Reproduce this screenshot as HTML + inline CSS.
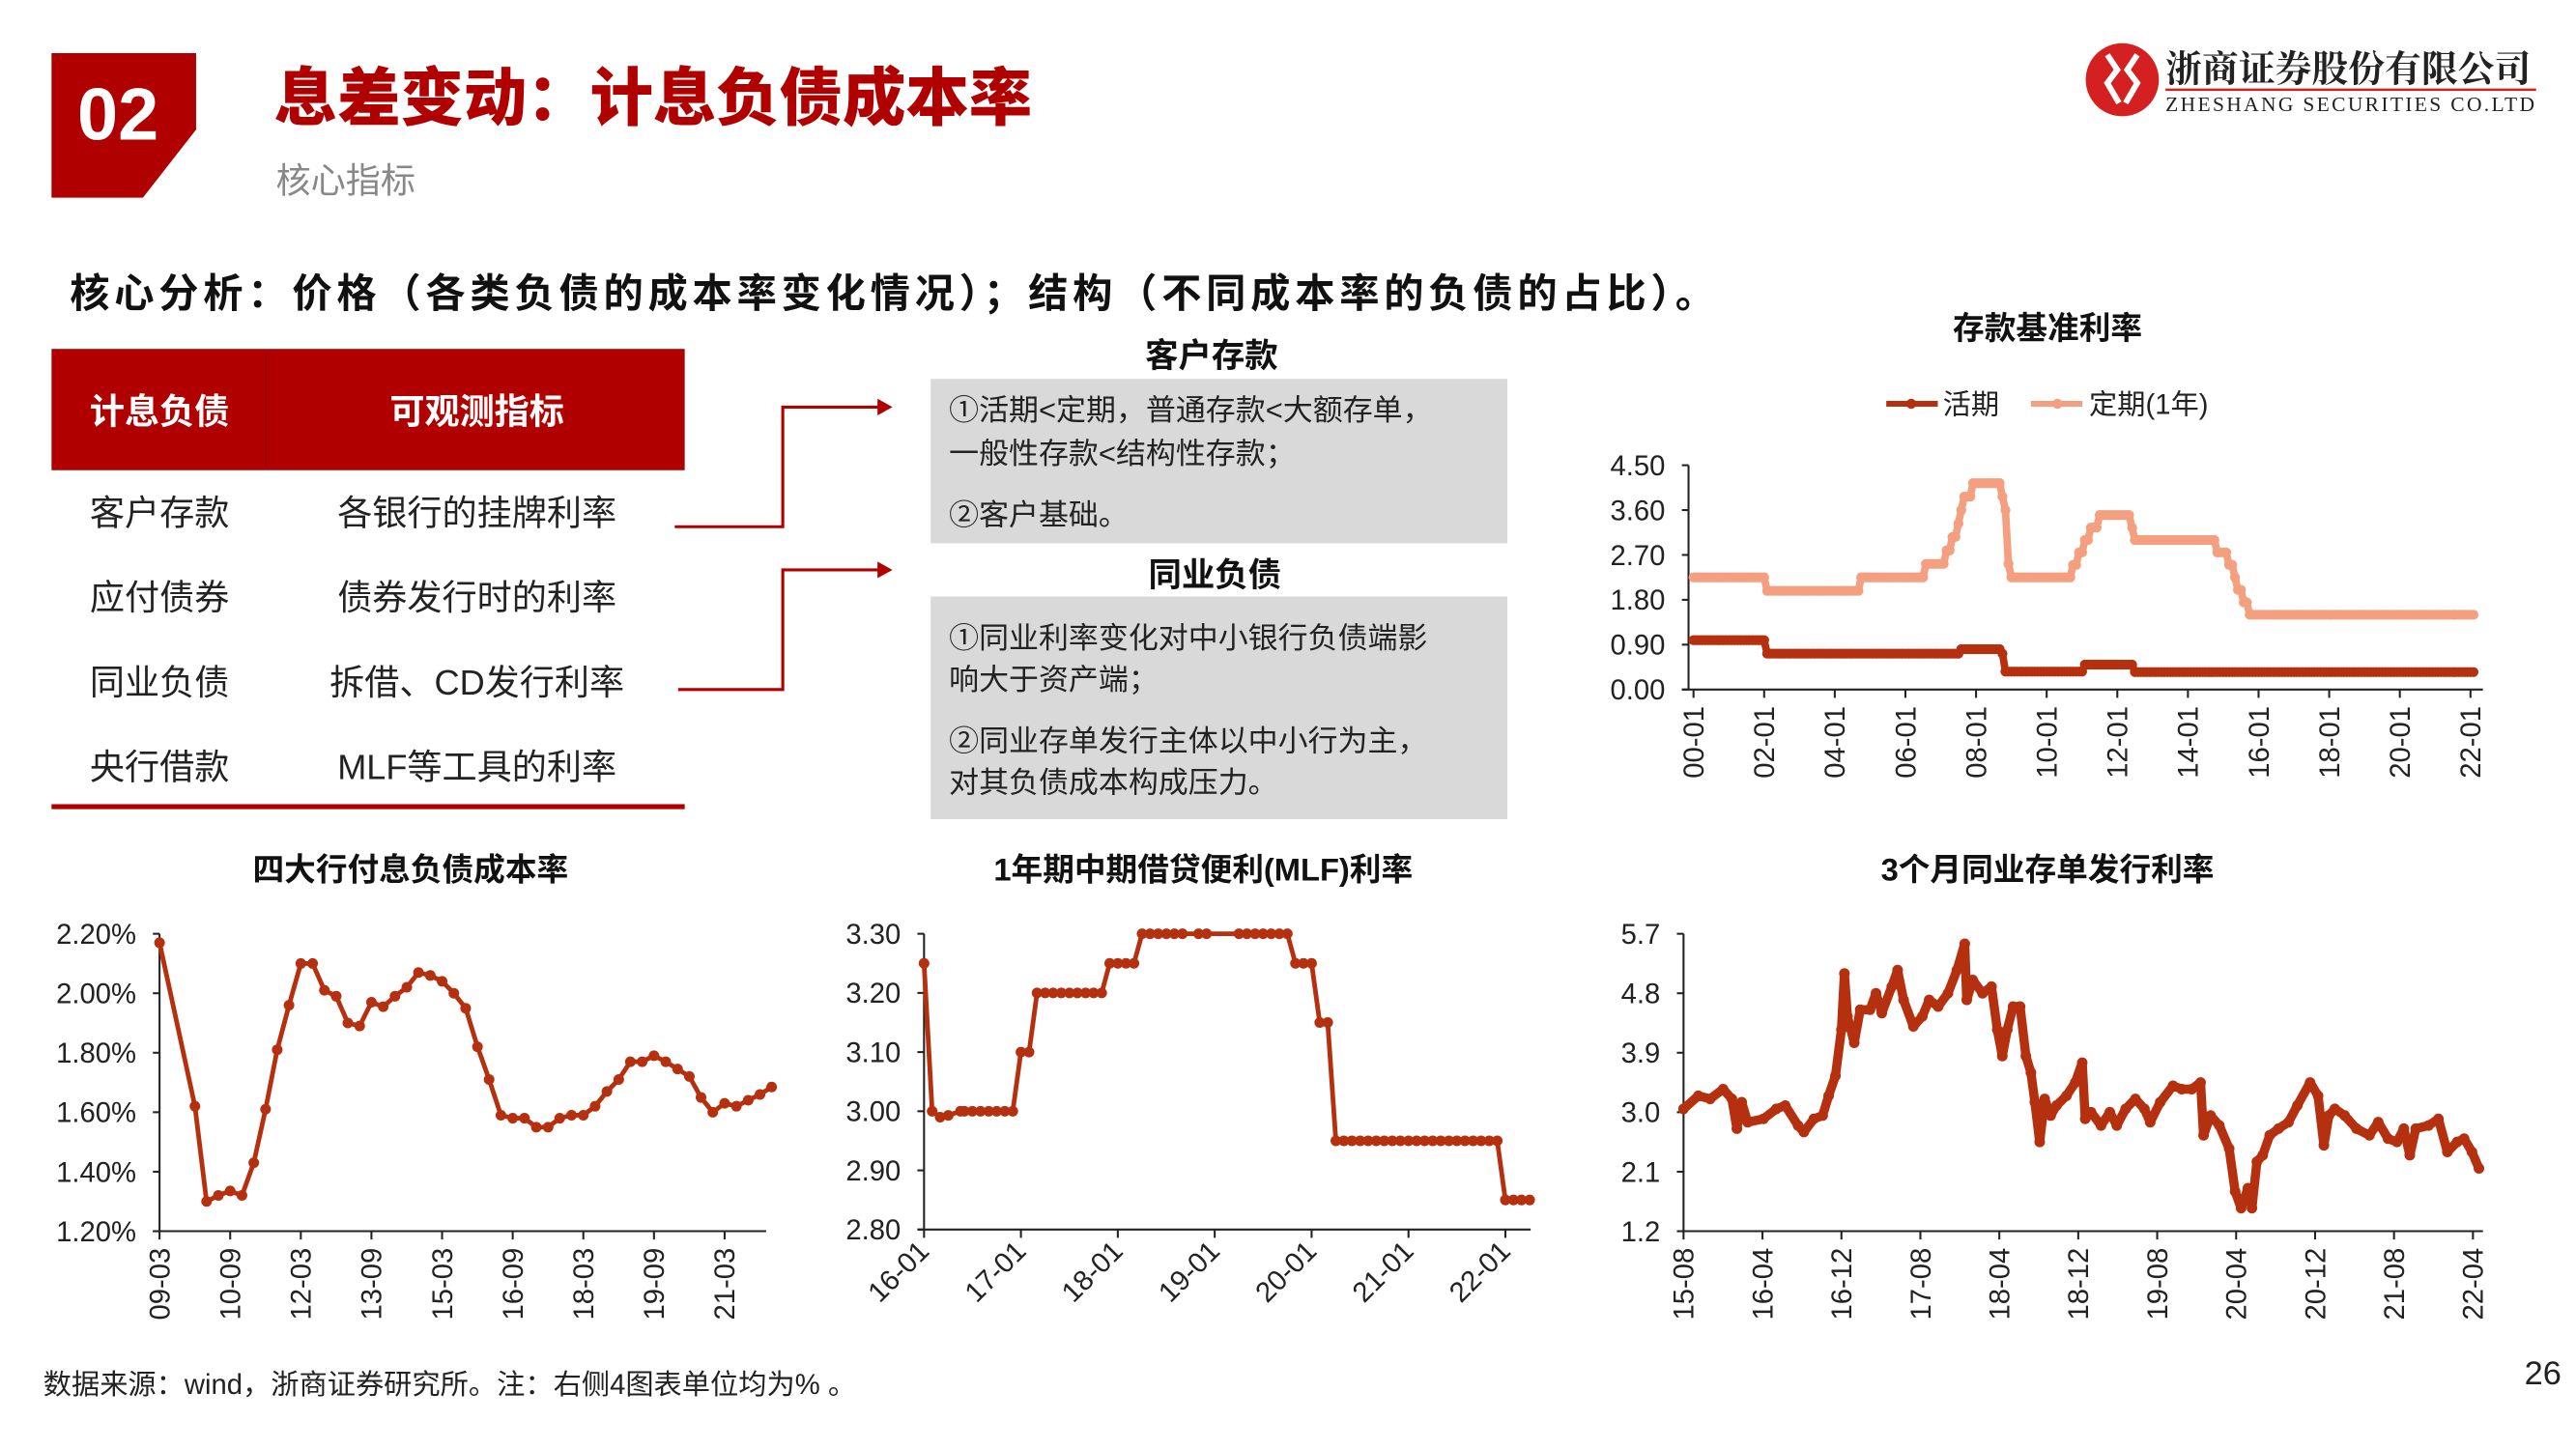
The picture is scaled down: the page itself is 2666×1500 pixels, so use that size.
<!DOCTYPE html>
<html><head><meta charset="utf-8">
<style>
html,body{margin:0;padding:0;background:#fff;}
body{width:2666px;height:1500px;overflow:hidden;}
#wrap{position:absolute;left:0;top:0;width:1550px;height:872.1px;transform:scale(1.72);transform-origin:0 0;font-family:"Liberation Sans","Noto Sans CJK SC",sans-serif;}
</style></head>
<body>
<div id="wrap">
<svg width="1550" height="872" style="position:absolute;left:0;top:0">
  <polygon points="31,32 118,32 118,78 86,119 31,119" fill="#b00000"/>
  <text x="71" y="84" font-family="Liberation Sans" font-weight="bold" font-size="44" fill="#fff" text-anchor="middle">02</text>
  <text x="165" y="72" font-family="Liberation Sans,Noto Sans CJK SC,sans-serif" font-weight="900" font-size="38" fill="#b00000">息差变动：计息负债成本率</text>
  <text x="166" y="116" font-family="Liberation Sans,Noto Sans CJK SC,sans-serif" font-size="21" fill="#888">核心指标</text>
  <g>
    <circle cx="1277" cy="48" r="22" fill="#d42020"/>
    <path d="M1268,33 L1274,42 L1268,50 L1275,62 M1286,33 L1280,42 L1286,50 L1279,62" stroke="#fff" stroke-width="3.5" fill="none"/>
    <text x="1303" y="49" font-family="Noto Serif CJK SC,serif" font-weight="bold" font-size="22" fill="#222">浙商证券股份有限公司</text>
    <line x1="1303" y1="54" x2="1526" y2="54" stroke="#d42020" stroke-width="1.5"/>
    <text x="1303" y="67" font-family="Liberation Serif,serif" font-size="12.5" fill="#222" textLength="222">ZHESHANG SECURITIES CO.LTD</text>
  </g>
  <text x="42" y="185" font-family="Liberation Sans,Noto Sans CJK SC,sans-serif" font-weight="bold" font-size="24" fill="#111" textLength="990">核心分析：价格（各类负债的成本率变化情况）；结构（不同成本率的负债的占比）。</text>
  <g>
    <rect x="31" y="210" width="381" height="73" fill="#b00000"/>
    <line x1="160" y1="212" x2="160" y2="281" stroke="#9a0000" stroke-width="1"/>
    <g font-family="Liberation Sans,Noto Sans CJK SC,sans-serif" font-size="21" text-anchor="middle">
      <text x="96" y="255" fill="#fff" font-weight="bold">计息负债</text>
      <text x="287" y="255" fill="#fff" font-weight="bold">可观测指标</text>
      <text x="96" y="316" fill="#222">客户存款</text><text x="287" y="316" fill="#222">各银行的挂牌利率</text>
      <text x="96" y="367" fill="#222">应付债券</text><text x="287" y="367" fill="#222">债券发行时的利率</text>
      <text x="96" y="418" fill="#222">同业负债</text><text x="287" y="418" fill="#222">拆借、CD发行利率</text>
      <text x="96" y="469" fill="#222">央行借款</text><text x="287" y="469" fill="#222">MLF等工具的利率</text>
    </g>
    <rect x="31" y="484" width="381" height="3" fill="#b00000"/>
  </g>
  <g stroke="#b00000" stroke-width="1.8" fill="none">
    <polyline points="406,317 471,317 471,245 530,245"/>
    <polyline points="408,415 471,415 471,343 530,343"/>
  </g>
  <polygon points="528,240 537,245 528,250" fill="#b00000"/>
  <polygon points="528,338 537,343 528,348" fill="#b00000"/>
  <g font-family="Liberation Sans,Noto Sans CJK SC,sans-serif">
    <text x="729" y="221" font-size="20" font-weight="bold" text-anchor="middle" fill="#111">客户存款</text>
    <rect x="560" y="228" width="347" height="99" fill="#d9d9d9"/>
    <text font-size="18" fill="#222"><tspan x="571" y="253">①活期&lt;定期，普通存款&lt;大额存单，</tspan><tspan x="571" y="279">一般性存款&lt;结构性存款；</tspan><tspan x="571" y="316">②客户基础。</tspan></text>
    <text x="731" y="353" font-size="20" font-weight="bold" text-anchor="middle" fill="#111">同业负债</text>
    <rect x="560" y="359" width="347" height="134" fill="#d9d9d9"/>
    <text font-size="18" fill="#222"><tspan x="571" y="390">①同业利率变化对中小银行负债端影</tspan><tspan x="571" y="415">响大于资产端；</tspan><tspan x="571" y="452">②同业存单发行主体以中小行为主，</tspan><tspan x="571" y="477">对其负债成本构成压力。</tspan></text>
  </g>
  <g id="c1"></g>
  <g id="c2"></g>
  <g id="c3"></g>
  <g id="c4"></g>
  <text x="26" y="839" font-family="Liberation Sans,Noto Sans CJK SC,sans-serif" font-size="17" fill="#222">数据来源：wind，浙商证券研究所。注：右侧4图表单位均为% 。</text>
  <text x="1519" y="833" font-family="Liberation Sans" font-size="20" fill="#222">26</text>
</svg>
</div>
<script>
// ---- chart 1: deposit benchmark rates (step change events, month index from 2000-01)
const c1Ticks=['00-01','02-01','04-01','06-01','08-01','10-01','12-01','14-01','16-01','18-01','20-01','22-01'];
const c1YTicks=['4.50','3.60','2.70','1.80','0.90','0.00'];
const demandEvents=[[0,0.99],[25,0.72],[91,0.81],[105,0.72],[106,0.36],[133,0.50],[150,0.35],[265,0.35]];
const timeEvents=[[0,2.25],[25,1.98],[57,2.25],[79,2.52],[86,2.79],[88,3.06],[90,3.33],[91,3.60],[92,3.87],[95,4.14],[105,3.87],[106,3.60],[107,2.52],[108,2.25],[129,2.50],[131,2.75],[133,3.00],[135,3.25],[138,3.50],[149,3.25],[150,3.00],[178,2.75],[182,2.50],[184,2.25],[185,2.00],[187,1.75],[189,1.50],[265,1.50]];
// ---- chart 2: big four cost rate (quarter index from 2009Q1)
const c2Ticks=['09-03','10-09','12-03','13-09','15-03','16-09','18-03','19-09','21-03'];
const c2YTicks=['2.20%','2.00%','1.80%','1.60%','1.40%','1.20%'];
const c2Q=[0,3,4,5,6,7,8,9,10,11,12,13,14,15,16,17,18,19,20,21,22,23,24,25,26,27,28,29,30,31,32,33,34,35,36,37,38,39,40,41,42,43,44,45,46,47,48,49,50,51,52];
const c2Vals=[2.17,1.62,1.30,1.32,1.335,1.32,1.43,1.61,1.81,1.96,2.10,2.10,2.01,1.99,1.90,1.89,1.97,1.955,1.99,2.02,2.07,2.06,2.04,2.00,1.95,1.82,1.71,1.59,1.58,1.58,1.55,1.55,1.58,1.59,1.59,1.62,1.67,1.71,1.77,1.77,1.79,1.77,1.745,1.72,1.65,1.60,1.63,1.62,1.64,1.66,1.685];
// ---- chart 3: MLF (month index from 2016-01)
const c3Ticks=['16-01','17-01','18-01','19-01','20-01','21-01','22-01'];
const c3YTicks=['3.30','3.20','3.10','3.00','2.90','2.80'];
const c3M=[0,1,2,3,4.5,5,6,7,8,9,10,11,12,13,14,15,16,17,18,19,20,21,22,23,24,25,26,27,28,29,30,31,32,34,35,39,40,41,42,43,44,45,46,47,48,49,50,51,52,53,54,55,56,57,58,59,60,61,62,63,64,65,66,67,68,69,70,71,72,73,74,75];
const c3Vals=[3.25,3.00,2.99,2.993,3.00,3.00,3.00,3.00,3.00,3.00,3.00,3.00,3.10,3.10,3.20,3.20,3.20,3.20,3.20,3.20,3.20,3.20,3.20,3.25,3.25,3.25,3.25,3.30,3.30,3.30,3.30,3.30,3.30,3.30,3.30,3.30,3.30,3.30,3.30,3.30,3.30,3.30,3.25,3.25,3.25,3.15,3.15,2.95,2.95,2.95,2.95,2.95,2.95,2.95,2.95,2.95,2.95,2.95,2.95,2.95,2.95,2.95,2.95,2.95,2.95,2.95,2.95,2.95,2.85,2.85,2.85,2.85];
// ---- chart 4: 3M NCD rate (month index from 2015-08)
const c4Ticks=['15-08','16-04','16-12','17-08','18-04','18-12','19-08','20-04','20-12','21-08','22-04'];
const c4YTicks=['5.7','4.8','3.9','3.0','2.1','1.2'];
const c4M=[0,1.5,2.7,4.0,4.9,5.4,5.9,6.5,8.1,9.4,10.3,11.6,12.2,13.2,14.1,14.7,15.4,16.0,16.3,16.6,17.3,17.9,18.9,19.5,20.1,21.1,21.7,22.3,23.3,24.2,24.9,25.8,26.8,27.7,28.5,28.7,29.3,30.3,31.2,31.8,32.3,32.8,33.4,34.1,34.7,35.2,35.6,36.1,36.6,37.2,37.8,38.8,39.7,40.4,40.7,41.3,42.3,43.2,43.9,44.8,45.8,46.7,47.3,48.3,49.6,50.5,51.5,52.4,52.7,53.4,54.3,55.3,55.9,56.5,57.2,57.6,58.1,58.7,59.4,60.3,61.3,62.2,63.5,64.3,64.9,65.4,66.0,67.0,68.2,69.5,70.4,71.4,72.3,73.0,73.6,74.2,75.5,76.5,77.4,78.4,79.1,79.9,80.6];
const c4Vals=[3.05,3.25,3.2,3.35,3.2,2.75,3.15,2.85,2.9,3.05,3.1,2.8,2.7,2.9,2.95,3.25,3.55,4.25,5.1,4.45,4.05,4.55,4.55,4.8,4.5,4.9,5.15,4.7,4.3,4.45,4.7,4.6,4.8,5.15,5.55,4.7,5.0,4.8,4.9,4.25,3.85,4.25,4.6,4.6,3.85,3.6,3.15,2.55,3.2,2.95,3.1,3.25,3.45,3.75,2.9,3.0,2.8,3.0,2.8,3.05,3.2,3.05,2.85,3.15,3.4,3.35,3.35,3.45,2.65,2.95,2.8,2.45,1.8,1.55,1.85,1.55,2.25,2.35,2.65,2.75,2.85,3.1,3.45,3.25,2.5,2.95,3.05,2.95,2.75,2.65,2.85,2.6,2.55,2.75,2.35,2.75,2.8,2.9,2.4,2.55,2.6,2.4,2.15];

const NS='http://www.w3.org/2000/svg';
function mk(parent,tag,attrs){const e=document.createElementNS(NS,tag);for(const k in attrs)e.setAttribute(k,attrs[k]);parent.appendChild(e);return e;}
const FONT='Liberation Sans,Noto Sans CJK SC,sans-serif';

function axes(g,o){
  const t=mk(g,'text',{x:o.tx,y:o.ty,'font-family':FONT,'font-size':19,'font-weight':'bold','text-anchor':'middle',fill:'#111'});
  t.textContent=o.title;
  
  
  const ya=mk(g,'line',{x1:o.x0,y1:o.y0,x2:o.x0,y2:o.y1,stroke:'#222','stroke-width':1.2});
  
  
  const xa=mk(g,'line',{x1:o.x0-4,y1:o.y1,x2:o.x1,y2:o.y1,stroke:'#222','stroke-width':1.2});
  
  
  const n=o.yTicks.length;
  o.yTicks.forEach((lab,i)=>{
    const y=o.y0+(o.y1-o.y0)*i/(n-1);
    mk(g,'line',{x1:o.x0-4,y1:y,x2:o.x0,y2:y,stroke:'#222','stroke-width':1.2});
    const tt=mk(g,'text',{x:o.x0-14,y:y+6,'font-family':FONT,'font-size':17,'text-anchor':'end',fill:'#222'});
    tt.textContent=lab;
    
    
  });
  o.xTicks.forEach((lab,i)=>{
    const x=o.xPos(i);
    mk(g,'line',{x1:x,y1:o.y1,x2:x,y2:o.y1+5,stroke:'#222','stroke-width':1.2});
    let tt;
    if(o.rot===-90){tt=mk(g,'text',{x:0,y:0,transform:`translate(${x+6},${o.y1+10}) rotate(-90)`,'font-family':FONT,'font-size':17,'text-anchor':'end',fill:'#222'});}
    else{tt=mk(g,'text',{x:0,y:0,transform:`translate(${x+4},${o.y1+14}) rotate(-45)`,'font-family':FONT,'font-size':17,'text-anchor':'end',fill:'#222'});}
    tt.textContent=lab;
    
    
  });
}
function series(g,pts,color,w,r,name){
  const pl=mk(g,'polyline',{points:pts.map(p=>p[0].toFixed(1)+','+p[1].toFixed(1)).join(' '),fill:'none',stroke:color,'stroke-width':w,'stroke-linejoin':'round'});
  
  
  pts.forEach(p=>{
    const c=mk(g,'circle',{cx:p[0].toFixed(1),cy:p[1].toFixed(1),r:r,fill:color});
    
    
  });
}
function expandSteps(ev){const out=[];for(let i=0;i<ev.length-1;i++){for(let m=ev[i][0];m<ev[i+1][0];m++)out.push([m,ev[i][1]]);}out.push(ev[ev.length-1]);return out;}

(function(){
  const g=document.getElementById('c1');
  const X=m=>1019+m*(42.5/24), Y=v=>415-v*30;
  axes(g,{x0:1016,x1:1494,y0:280,y1:415,yTicks:c1YTicks,xTicks:c1Ticks,xPos:i=>X(i*24),rot:-90,title:'存款基准利率',tx:1232,ty:204});
  const lg=mk(g,'g',{});
  
  
  mk(lg,'line',{x1:1135,y1:243,x2:1166,y2:243,stroke:'#b5300f','stroke-width':3.5});
  mk(lg,'circle',{cx:1150,cy:243,r:3,fill:'#b5300f'});
  const t1=mk(lg,'text',{x:1169,y:249,'font-family':FONT,'font-size':17,fill:'#222'});t1.textContent='活期';
  mk(lg,'line',{x1:1222,y1:243,x2:1253,y2:243,stroke:'#f4a080','stroke-width':3.5});
  mk(lg,'circle',{cx:1238,cy:243,r:3,fill:'#f4a080'});
  const t2=mk(lg,'text',{x:1257,y:249,'font-family':FONT,'font-size':17,fill:'#222'});t2.textContent='定期(1年)';
  series(g,expandSteps(timeEvents).map(p=>[X(p[0]),Y(p[1])]),'#f4a080',4.5,3,'time-deposit');
  series(g,expandSteps(demandEvents).map(p=>[X(p[0]),Y(p[1])]),'#b5300f',4.5,3,'demand-deposit');
})();
(function(){
  const g=document.getElementById('c2');
  const X=q=>96+q*(42.5/6), Y=v=>741-(v-1.2)*179;
  axes(g,{x0:96,x1:461,y0:562,y1:741,yTicks:c2YTicks,xTicks:c2Ticks,xPos:i=>X(i*6),rot:-90,title:'四大行付息负债成本率',tx:247,ty:530});
  series(g,c2Q.map((q,i)=>[X(q),Y(c2Vals[i])]),'#b5300f',2.8,3.2,'cost-rate');
})();
(function(){
  const g=document.getElementById('c3');
  const X=m=>556+m*(58.3/12), Y=v=>740-(v-2.8)*356;
  axes(g,{x0:556,x1:921,y0:562,y1:740,yTicks:c3YTicks,xTicks:c3Ticks,xPos:i=>X(i*12),rot:-45,title:'1年期中期借贷便利(MLF)利率',tx:724,ty:530});
  series(g,c3M.map((m,i)=>[X(m),Y(c3Vals[i])]),'#b5300f',2.8,3.2,'mlf');
})();
(function(){
  const g=document.getElementById('c4');
  const X=m=>1013+m*(47.5/8), Y=v=>741-(v-1.2)*(179/4.5);
  axes(g,{x0:1013,x1:1494,y0:562,y1:741,yTicks:c4YTicks,xTicks:c4Ticks,xPos:i=>X(i*8),rot:-90,title:'3个月同业存单发行利率',tx:1232,ty:530});
  series(g,c4M.map((m,i)=>[X(m),Y(c4Vals[i])]),'#b5300f',5.5,3.2,'ncd');
})();
</script>
</body></html>
